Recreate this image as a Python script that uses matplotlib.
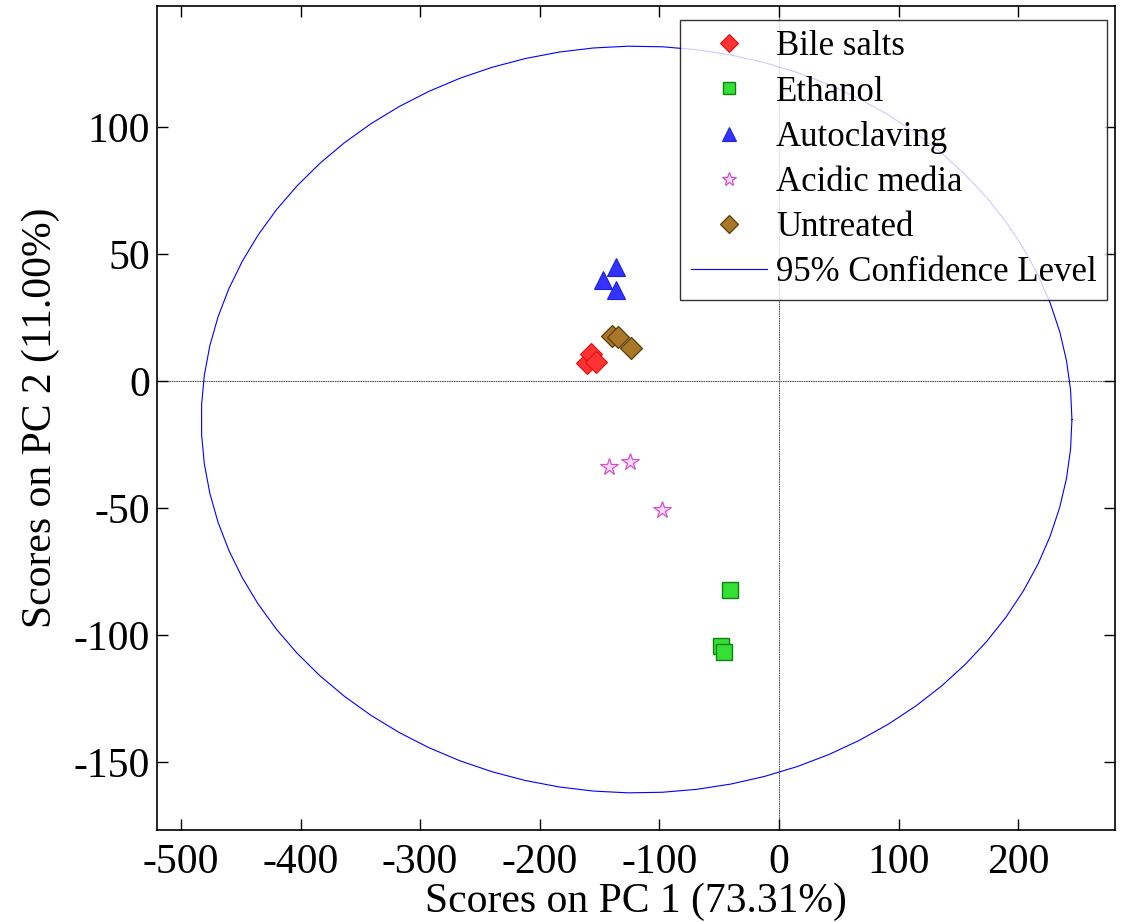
import numpy as np
import matplotlib
matplotlib.use("Agg")
import matplotlib.pyplot as plt

plt.rcParams['font.family'] = ['Liberation Serif', 'DejaVu Serif']
plt.rcParams['axes.unicode_minus'] = False

# PCA scores (PC1, PC2)
bile_x = [-160.5, -157.0, -153.0]
bile_y = [7.1, 10.6, 7.5]
ethanol_x = [-41.0, -48.5, -46.0]
ethanol_y = [-82.3, -104.3, -106.7]
autoclave_x = [-136.0, -147.0, -136.0]
autoclave_y = [45.0, 40.0, 36.0]
acidic_x = [-142.0, -124.6, -97.8]
acidic_y = [-33.5, -31.9, -50.8]
untreated_x = [-139.6, -134.6, -123.7]
untreated_y = [18.0, 17.3, 13.0]

# 95% confidence ellipse
ell_center = (-119.0, -15.0)
ell_radii = (364.0, 147.0)

x_ticks = [-500, -400, -300, -200, -100, 0, 100, 200]
y_ticks = [-150, -100, -50, 0, 50, 100]


def main():
    fig = plt.figure(figsize=(11.25, 9.22), dpi=100)
    ax = fig.add_axes([157 / 1125, 1 - 830 / 922, 958 / 1125, 824 / 922])

    ax.axhline(0, color='0.35', lw=0.8, ls=(0, (1.5, 0.6)), zorder=1)
    ax.axvline(0, color='0.35', lw=0.8, ls=(0, (1.5, 0.6)), zorder=1)

    ax.plot(bile_x, bile_y, 'D', ms=11, mfc='#ff3333', mec='#e01010',
            mew=0.8, label='Bile salts', zorder=3)
    ax.plot(ethanol_x, ethanol_y, 's', ms=11, mfc='#33e033', mec='#108010',
            mew=1.0, label='Ethanol', zorder=3)
    ax.plot(autoclave_x, autoclave_y, '^', ms=13, mfc='#3333ff', mec='#2020e0',
            mew=0.8, label='Autoclaving', zorder=3)
    ax.plot(acidic_x, acidic_y, '*', ms=13, mfc='#ffd8ff', mec='#d050d0',
            mew=0.9, label='Acidic media', zorder=3)
    ax.plot(untreated_x, untreated_y, 'D', ms=11, mfc='#a87828', mec='#5a3c0a',
            mew=0.9, label='Untreated', zorder=3)

    t = np.linspace(0, 2 * np.pi, 80)
    ax.plot(ell_center[0] + ell_radii[0] * np.cos(t),
            ell_center[1] + ell_radii[1] * np.sin(t),
            color='#0000ff', lw=0.8, label='95% Confidence Level', zorder=2)

    ax.set_xlim(-520, 281)
    ax.set_ylim(-176.6, 147.8)
    ax.set_xticks(x_ticks)
    ax.set_yticks(y_ticks)
    ax.tick_params(direction='in', length=8, width=1, labelsize=30,
                   top=True, right=True)
    ax.tick_params(axis='x', pad=10)
    ax.tick_params(axis='y', pad=5)
    for sp in ax.spines.values():
        sp.set_linewidth(1.2)

    ax.set_xlabel('Scores on PC 1 (73.31%)', fontsize=30, labelpad=0)
    ax.set_ylabel('Scores on PC 2 (11.00%)', fontsize=30, labelpad=10)

    leg = ax.legend(loc='upper right', bbox_to_anchor=(1107 / 1125, 1 - 20 / 922),
                    bbox_transform=fig.transFigure, borderaxespad=0,
                    fontsize=25, frameon=True, fancybox=False, edgecolor='black',
                    handlelength=2.2, handletextpad=0.25, labelspacing=0.35,
                    borderpad=0.3, markerscale=0.8)
    leg.get_frame().set_linewidth(1.0)

    fig.savefig('out.png', dpi=100)


if __name__ == "__main__":
    main()
